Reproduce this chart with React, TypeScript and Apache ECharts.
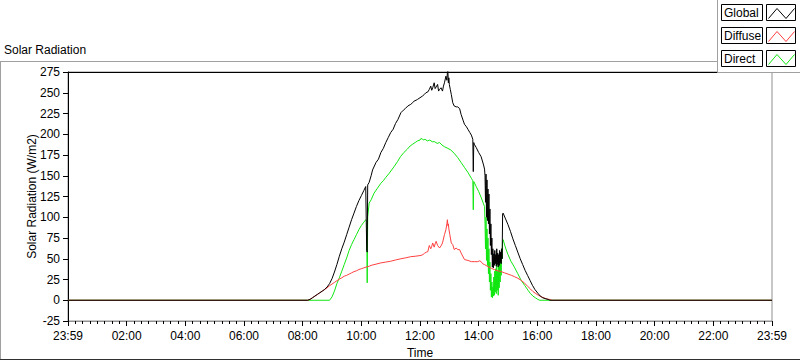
import React, { useEffect, useRef } from "react";
import * as echarts from "echarts";

// minutes since 23:59 of the previous day, W/m2
const GLOBAL_POINTS: [number, number][] = [
  [0,0],[490,0],[495,1],[500,3],[505,5],[510,7],[515,9],[520,11],[525,13],[530,16],[535,20],[540,26],[545,34],[550,43],[555,53],[560,62],[565,70],[570,79],[575,88],[580,97],[585,105],[590,113],[595,120],[600,126],[605,132],[609,137],[611,60],[612,58],[613,139],[616,142],[620,150],[623,157],[630,166],[635,170],[640,178],[645,183],[650,190],[655,196],[660,202],[665,206],[670,213],[675,218],[681,226],[686,229],[690,231],[695,234],[701,236],[705,238],[708,240],[712,241],[715,242],[720,244],[725,246],[729,248],[732,250],[736,251],[739,254],[742,258],[744,253],[746,256],[749,262],[751,255],[753,257],[756,260],[758,252],[760,254],[763,256],[766,252],[768,258],[770,262],[773,270],[775,265],[776,274],[777,276],[778,262],[779,268],[780,260],[782,254],[784,248],[787,238],[790,234],[794,233],[797,233],[801,231],[804,224],[808,217],[811,212],[815,209],[818,206],[822,202],[825,199],[828,194],[829,155],[830,190],[831,188],[835,184],[840,178],[845,173],[850,163],[852,158],[853,150],[854,118],[855,152],[856,100],[857,145],[858,96],[859,134],[860,92],[861,128],[862,80],[863,110],[864,66],[865,92],[866,55],[867,75],[868,40],[869,62],[870,39],[871,56],[872,42],[873,60],[874,44],[875,55],[876,41],[877,62],[878,43],[879,57],[880,40],[881,55],[882,42],[883,60],[884,45],[885,58],[886,44],[887,62],[888,50],[889,104],[890,105],[895,98],[900,91],[905,83],[910,74],[915,66],[920,58],[925,50],[930,43],[935,36],[940,30],[945,24],[950,18],[955,13],[961,8.5],[966,5],[971,3],[976,2],[982,1],[986,0],[1440,0],
];

const DIFFUSE_POINTS: [number, number][] = [
  [0,0],[490,0],[495,1],[500,3],[505,5],[510,7],[515,9],[520,11],[525,13],[530,15],[535,17.5],[540,19.5],[545,21.5],[550,23.5],[555,25.5],[560,27],[565,29],[570,30],[575,31.5],[580,33],[585,34.5],[590,35.5],[595,37],[600,38],[605,39],[610,40],[616,41],[620,42],[630,43.5],[640,45],[650,46],[660,47],[670,48.5],[681,50],[690,51],[701,52.5],[710,53],[716,53.5],[722,54],[726,55],[729,56.5],[733,58],[736,58.5],[739,66],[742,62],[744,65],[746,69],[749,64],[751,68],[753,71],[756,66],[760,63],[763,65.5],[766,69],[770,79],[773,85],[775,92],[776,97],[777,90],[778,92],[779,86],[781,79],[784,69],[787,67],[790,61],[794,63],[797,61],[801,61],[804,57],[811,49],[818,48],[825,46.5],[832,46.5],[838,46.5],[842,47.5],[845,46.5],[848,44],[852,43],[859,40.5],[866,38.5],[872,37],[879,35.5],[886,34.5],[893,33],[900,31.5],[907,30],[913,28.5],[920,26.5],[927,24],[934,20.5],[940,17],[946,13.5],[951,10.5],[957,8],[962,6],[968,4.3],[975,2.5],[980,1.5],[985,1],[990,0],[1440,0],
];

const DIRECT_POINTS: [number, number][] = [
  [0,0],[490,0],[535,0],[540,4],[545,11],[550,20],[555,27],[560,35],[565,43],[570,51],[575,60],[580,67],[585,73],[590,79],[595,85],[600,90],[605,94],[609,97],[611,95],[612,21],[613,100],[616,117],[620,121],[626,129],[633,135],[640,141],[645,144],[650,148],[657,153],[662,157],[667,161],[674,167],[680,173],[687,178],[694,182],[700,186],[705,188],[710,190],[715,192],[720,193],[722,195],[725,194],[728,193],[730,194],[735,192],[740,193],[745,191],[750,191],[755,189],[760,190],[765,187],[770,185],[777,183],[783,181],[790,177],[797,172],[804,166],[811,160],[818,154],[825,147],[828,144],[829,109],[830,143],[835,137],[840,131],[845,124],[850,116],[852,113],[853,92],[854,62],[855,100],[856,48],[857,86],[858,42],[859,75],[860,32],[861,62],[862,22],[863,46],[864,12],[865,32],[866,4],[867,22],[868,3],[869,16],[870,5],[871,28],[872,6],[873,35],[874,10],[875,38],[876,8],[877,45],[878,12],[879,35],[880,6],[881,40],[882,15],[883,50],[884,22],[885,55],[886,30],[887,62],[888,50],[889,70],[890,73],[895,63],[900,55],[906,47],[913,40],[920,32],[927,24],[934,18],[941,12],[946,8],[951,5],[956,3],[961,1],[965,0],[1440,0],
];

const SERIES_NAMES = ["Global", "Diffuse", "Direct"];
const SERIES_COLORS = ["#000000", "#ff4040", "#10e610"];
const X_MIN = 0;
const X_MAX = 1440;
const X_INTERVAL = 120;
const Y_MIN = -25;
const Y_MAX = 275;
const Y_INTERVAL = 25;
const TITLE = "Solar Radiation";
const Y_NAME = "Solar Radiation (W/m2)";
const X_NAME = "Time";

const FONT = '"Liberation Sans", Arial, sans-serif';

function timeLabel(v: number): string {
  if (v === X_MIN || v === X_MAX) return "23:59";
  const h = Math.round(v / 60);
  return (h < 10 ? "0" : "") + h + ":00";
}

export default function App() {
  const ref = useRef<HTMLDivElement>(null);
  useEffect(() => {
    if (!ref.current) return;
    const chart = echarts.init(ref.current, undefined, { renderer: "svg" });

    const legendGraphics: any[] = [
      {
        type: "rect",
        z: 100,
        shape: { x: 717.5, y: -2, width: 90, height: 74.5 },
        style: { fill: "#ffffff", stroke: "#a0a0a0", lineWidth: 1 },
      },
    ];
    SERIES_NAMES.forEach((name, i) => {
      const y0 = 3.5 + i * 23.3;
      const yr = Math.round(y0) + 0.5;
      legendGraphics.push(
        {
          type: "rect",
          z: 101,
          shape: { x: 721.5, y: yr, width: 41, height: 16 },
          style: { fill: "#ffffff", stroke: "#000000", lineWidth: 1 },
        },
        {
          type: "text",
          z: 102,
          x: 724,
          y: yr + 8.5,
          style: {
            text: name,
            fontSize: 12,
            fontFamily: FONT,
            fill: "#000000",
            align: "left",
            verticalAlign: "middle",
          },
        },
        {
          type: "rect",
          z: 101,
          shape: { x: 766.5, y: yr, width: 29, height: 16 },
          style: { fill: "#ffffff", stroke: "#000000", lineWidth: 1 },
        },
        {
          type: "polyline",
          z: 102,
          shape: {
            points: [
              [768.5, yr + 14],
              [777, yr + 4],
              [786, yr + 14],
              [794.5, yr + 4],
            ],
          },
          style: { stroke: SERIES_COLORS[i], lineWidth: 1, fill: null },
        }
      );
    });

    const seriesData = [GLOBAL_POINTS, DIFFUSE_POINTS, DIRECT_POINTS];
    const order = [2, 1, 0]; // draw Direct, Diffuse, then Global on top

    chart.setOption({
      animation: false,
      backgroundColor: "#ffffff",
      textStyle: { fontFamily: FONT },
      grid: {
        left: 68,
        right: 28,
        top: 72,
        bottom: 40,
        show: true,
        borderColor: "#909090",
        borderWidth: 1,
        backgroundColor: "transparent",
        containLabel: false,
        outerBoundsMode: "none",
      },
      xAxis: [
        {
          type: "value",
          min: X_MIN,
          max: X_MAX,
          interval: X_INTERVAL,
          position: "bottom",
          name: X_NAME,
          nameLocation: "middle",
          nameGap: 26,
          nameMoveOverlap: false,
          nameTextStyle: { color: "#000", fontSize: 12, fontFamily: FONT },
          axisLine: { show: true, onZero: false, lineStyle: { color: "#909090", width: 1 } },
          axisTick: { show: true, length: 5, lineStyle: { color: "#000", width: 1 } },
          minorTick: { show: true, splitNumber: 8, length: 3, lineStyle: { color: "#000", width: 1 } },
          axisLabel: {
            color: "#000",
            fontSize: 12,
            fontFamily: FONT,
            margin: 9,
            formatter: (v: number) => timeLabel(v),
          },
          splitLine: { show: false },
        },
        {
          type: "value",
          min: X_MIN,
          max: X_MAX,
          position: "top",
          axisLine: { show: true, onZero: false, lineStyle: { color: "#000", width: 1 } },
          axisTick: { show: false },
          axisLabel: { show: false },
          splitLine: { show: false },
        },
      ],
      yAxis: {
        type: "value",
        min: Y_MIN,
        max: Y_MAX,
        interval: Y_INTERVAL,
        name: Y_NAME,
        nameLocation: "middle",
        nameGap: 30,
        nameMoveOverlap: false,
        nameRotate: 90,
        nameTextStyle: { color: "#000", fontSize: 12, fontFamily: FONT },
        axisLine: { show: true, onZero: false, lineStyle: { color: "#000", width: 1 } },
        axisTick: { show: true, length: 5, lineStyle: { color: "#000", width: 1 } },
        axisLabel: { color: "#000", fontSize: 12, fontFamily: FONT, margin: 8 },
        splitLine: { show: false },
      },
      graphic: [
        {
          type: "text",
          left: 4,
          top: 44,
          style: { text: TITLE, fontSize: 12, fontFamily: FONT, fill: "#000" },
        },
        {
          type: "line",
          shape: { x1: 0, y1: 61.5, x2: 717, y2: 61.5 },
          style: { stroke: "#a0a0a0", lineWidth: 1 },
        },
        {
          type: "line",
          shape: { x1: 0.5, y1: 61, x2: 0.5, y2: 360 },
          style: { stroke: "#a0a0a0", lineWidth: 1 },
        },
        {
          type: "line",
          shape: { x1: 0, y1: 359.5, x2: 800, y2: 359.5 },
          style: { stroke: "#303030", lineWidth: 1 },
        },
        ...legendGraphics,
      ],
      series: order.map((i) => ({
        name: SERIES_NAMES[i],
        type: "line",
        xAxisIndex: 0,
        data: seriesData[i],
        showSymbol: false,
        symbol: "none",
        lineStyle: { color: SERIES_COLORS[i], width: 1 },
        itemStyle: { color: SERIES_COLORS[i] },
        emphasis: { disabled: true },
        silent: true,
      })),
    });

    return () => chart.dispose();
  }, []);

  return (
    <div
      ref={ref}
      style={{ position: "fixed", left: 0, top: 0, width: 800, height: 361, background: "#fff" }}
    />
  );
}
